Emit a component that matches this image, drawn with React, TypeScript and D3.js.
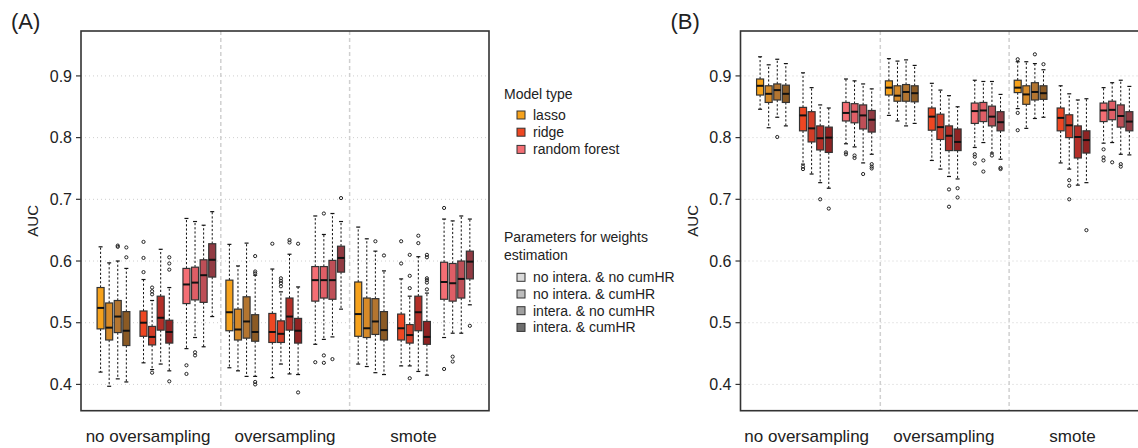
import React from "react";
import * as d3 from "d3";

// ---- categories ----
const groups = ["no oversampling", "oversampling", "smote"];
const models = ["lasso", "ridge", "random forest"];
const params = [
  "no intera. & no cumHR",
  "no intera. & cumHR",
  "intera. & no cumHR",
  "intera. & cumHR",
];
const yTicks = [0.4, 0.5, 0.6, 0.7, 0.8, 0.9];
const panelLabels = ["(A)", "(B)"];

// ---- colours ----
const modelColors = ["#F6A21C", "#EE4722", "#F46E74"];
const boxColors = [
  ["#F6A21C", "#D68A28", "#B37530", "#8B5A24"],
  ["#EE4722", "#D33D27", "#B42F28", "#8F2222"],
  ["#F46E74", "#DF5E66", "#BE4F57", "#913A42"],
];
const paramColors = ["#DADADA", "#BDBDBD", "#A0A0A0", "#6E6E6E"];

// ---- panel A stats: [whiskerLow, q1, median, q3, whiskerHigh] ----
// order: group -> model -> param
const statsA = [
  [0.420, 0.490, 0.524, 0.557, 0.623],
  [0.397, 0.472, 0.492, 0.532, 0.597],
  [0.409, 0.484, 0.510, 0.536, 0.600],
  [0.404, 0.463, 0.487, 0.518, 0.588],
  [0.435, 0.478, 0.500, 0.519, 0.570],
  [0.424, 0.464, 0.477, 0.494, 0.536],
  [0.433, 0.488, 0.508, 0.543, 0.619],
  [0.422, 0.467, 0.485, 0.504, 0.557],
  [0.458, 0.531, 0.562, 0.588, 0.669],
  [0.476, 0.537, 0.565, 0.590, 0.664],
  [0.461, 0.533, 0.577, 0.602, 0.658],
  [0.510, 0.574, 0.602, 0.628, 0.680],

  [0.427, 0.487, 0.517, 0.569, 0.627],
  [0.422, 0.472, 0.489, 0.522, 0.592],
  [0.413, 0.475, 0.502, 0.542, 0.629],
  [0.413, 0.470, 0.485, 0.513, 0.577],
  [0.411, 0.468, 0.485, 0.515, 0.587],
  [0.433, 0.468, 0.482, 0.503, 0.550],
  [0.417, 0.488, 0.510, 0.540, 0.611],
  [0.416, 0.467, 0.487, 0.507, 0.558],
  [0.465, 0.535, 0.569, 0.591, 0.673],
  [0.473, 0.540, 0.569, 0.591, 0.643],
  [0.477, 0.538, 0.569, 0.601, 0.677],
  [0.522, 0.582, 0.605, 0.624, 0.664],

  [0.433, 0.478, 0.514, 0.566, 0.655],
  [0.429, 0.476, 0.491, 0.540, 0.636],
  [0.419, 0.481, 0.502, 0.539, 0.616],
  [0.416, 0.472, 0.488, 0.518, 0.584],
  [0.430, 0.472, 0.491, 0.514, 0.571],
  [0.430, 0.467, 0.480, 0.497, 0.543],
  [0.421, 0.487, 0.517, 0.543, 0.607],
  [0.415, 0.465, 0.477, 0.502, 0.548],
  [0.476, 0.538, 0.566, 0.598, 0.668],
  [0.483, 0.535, 0.564, 0.596, 0.665],
  [0.483, 0.540, 0.571, 0.600, 0.673],
  [0.529, 0.571, 0.599, 0.616, 0.668],
];
const outliersA = [
  [], [], [0.623, 0.625], [0.606, 0.622],
  [0.582, 0.605, 0.631], [0.546, 0.551, 0.557, 0.419], [], [0.586, 0.596, 0.606, 0.405],
  [0.431, 0.417], [0.452, 0.447], [], [],

  [], [], [], [0.608, 0.583, 0.580, 0.404, 0.400],
  [0.628], [0.559, 0.564, 0.568, 0.572], [0.630, 0.634], [0.628, 0.387],
  [0.436], [0.677, 0.447, 0.435], [0.441], [0.702],

  [], [], [0.632], [0.609],
  [0.596, 0.632], [0.556, 0.576, 0.610, 0.410], [0.629, 0.641], [0.554, 0.565, 0.569, 0.572, 0.606, 0.610],
  [0.686, 0.425], [0.445, 0.437], [], [0.495],
];

// ---- panel B stats ----
const statsB = [
  [0.846, 0.869, 0.884, 0.895, 0.931],
  [0.816, 0.857, 0.871, 0.884, 0.918],
  [0.833, 0.861, 0.877, 0.887, 0.927],
  [0.819, 0.857, 0.871, 0.885, 0.920],
  [0.757, 0.811, 0.836, 0.849, 0.905],
  [0.741, 0.793, 0.815, 0.842, 0.881],
  [0.727, 0.780, 0.799, 0.819, 0.853],
  [0.718, 0.776, 0.800, 0.817, 0.848],
  [0.790, 0.827, 0.840, 0.857, 0.895],
  [0.785, 0.824, 0.842, 0.855, 0.892],
  [0.759, 0.814, 0.836, 0.853, 0.887],
  [0.773, 0.809, 0.829, 0.844, 0.879],

  [0.836, 0.869, 0.881, 0.892, 0.928],
  [0.827, 0.859, 0.868, 0.884, 0.924],
  [0.819, 0.859, 0.874, 0.886, 0.926],
  [0.823, 0.858, 0.872, 0.884, 0.917],
  [0.763, 0.812, 0.834, 0.848, 0.888],
  [0.749, 0.797, 0.817, 0.838, 0.877],
  [0.737, 0.779, 0.803, 0.819, 0.868],
  [0.733, 0.779, 0.793, 0.814, 0.850],
  [0.784, 0.823, 0.843, 0.856, 0.893],
  [0.792, 0.826, 0.844, 0.857, 0.891],
  [0.775, 0.819, 0.834, 0.851, 0.891],
  [0.765, 0.811, 0.825, 0.842, 0.870],

  [0.847, 0.873, 0.881, 0.893, 0.923],
  [0.815, 0.854, 0.870, 0.884, 0.923],
  [0.831, 0.861, 0.874, 0.889, 0.920],
  [0.833, 0.862, 0.872, 0.884, 0.910],
  [0.759, 0.811, 0.832, 0.848, 0.884],
  [0.749, 0.800, 0.820, 0.837, 0.871],
  [0.723, 0.767, 0.801, 0.819, 0.861],
  [0.727, 0.775, 0.796, 0.811, 0.863],
  [0.791, 0.826, 0.844, 0.856, 0.881],
  [0.792, 0.829, 0.845, 0.859, 0.889],
  [0.773, 0.817, 0.835, 0.853, 0.893],
  [0.772, 0.811, 0.826, 0.842, 0.883],
];
const outliersB = [
  [], [], [0.801], [],
  [0.753, 0.749], [], [0.700], [0.685],
  [0.776, 0.773], [0.771, 0.767], [0.741], [0.757, 0.753, 0.750],

  [], [], [], [],
  [], [], [0.716, 0.688], [0.718, 0.703],
  [0.773, 0.769, 0.758], [0.763, 0.745], [0.771], [0.751, 0.749],

  [0.927, 0.840, 0.812], [], [0.935], [0.919],
  [], [0.731, 0.722, 0.700], [], [0.650],
  [0.781, 0.768, 0.763], [0.760], [0.757, 0.753], [],
];

const FONT = "'Liberation Sans', Arial, Helvetica, sans-serif";

const W = 1138;
const H = 448;
const plotTop = 31;
const plotBottom = 410.7;
const plotWidth = 408;

type PanelProps = {
  left: number;
  label: string;
  stats: number[][];
  outliers: number[][];
  groupLabelX: number[];
};

function Panel({ left, label, stats, outliers, groupLabelX }: PanelProps) {
  const y = d3.scaleLinear().domain([0.3574, 0.9728]).range([plotBottom, plotTop]);
  const x = d3.scaleLinear().domain([-2.28, 45.23]).range([left, left + plotWidth]);
  const boxW = 7;
  const capW = 4;
  const boxes: any[] = [];
  let k = 0;
  groups.forEach((g, gi) => {
    models.forEach((m, mi) => {
      params.forEach((p, pi) => {
        const pos = gi * 15 + mi * 5 + pi;
        const [lo, q1, med, q3, hi] = stats[k];
        const outs = outliers[k];
        const cx = x(pos);
        const col = boxColors[mi][pi];
        boxes.push(
          <g key={k}>
            <line x1={cx} x2={cx} y1={y(q3)} y2={y(hi)} stroke="#111" strokeWidth={1} strokeDasharray="2.2,2" />
            <line x1={cx} x2={cx} y1={y(q1)} y2={y(lo)} stroke="#111" strokeWidth={1} strokeDasharray="2.2,2" />
            <line x1={cx - capW / 2} x2={cx + capW / 2} y1={y(hi)} y2={y(hi)} stroke="#111" strokeWidth={1.2} />
            <line x1={cx - capW / 2} x2={cx + capW / 2} y1={y(lo)} y2={y(lo)} stroke="#111" strokeWidth={1.2} />
            <rect x={cx - boxW / 2} y={y(q3)} width={boxW} height={y(q1) - y(q3)} fill={col} stroke="#333" strokeWidth={1.2} />
            <line x1={cx - boxW / 2} x2={cx + boxW / 2} y1={y(med)} y2={y(med)} stroke="#111" strokeWidth={2} />
            {outs.map((o, oi) => (
              <circle key={oi} cx={cx} cy={y(o)} r={1.6} fill="none" stroke="#222" strokeWidth={1} />
            ))}
          </g>
        );
        k++;
      });
    });
  });

  return (
    <g>
      <text x={left - 70} y={29} fontSize={22} fontFamily={FONT} fill="#222">{label}</text>
      {/* grid */}
      {yTicks.map((t) => (
        <line key={t} x1={left} x2={left + plotWidth} y1={y(t)} y2={y(t)} stroke="#cfcfcf" strokeWidth={1} strokeDasharray="1,3" />
      ))}
      {[14, 29].map((s) => (
        <line key={s} x1={x(s)} x2={x(s)} y1={plotTop} y2={plotBottom} stroke="#d0d0d0" strokeWidth={1.5} strokeDasharray="4,3" />
      ))}
      {boxes}
      <rect x={left} y={plotTop} width={plotWidth} height={plotBottom - plotTop} fill="none" stroke="#333" strokeWidth={1.6} />
      {yTicks.map((t) => (
        <g key={"t" + t}>
          <line x1={left - 5} x2={left} y1={y(t)} y2={y(t)} stroke="#333" strokeWidth={1.2} />
          <text x={left - 9} y={y(t)} dy="0.36em" textAnchor="end" fontSize={16} fontFamily={FONT} fill="#222">
            {t.toFixed(1)}
          </text>
        </g>
      ))}
      <text
        transform={`translate(${left - 48},${(plotTop + plotBottom) / 2}) rotate(-90)`}
        textAnchor="middle"
        dy="0.36em"
        fontSize={15}
        fontFamily={FONT}
        fill="#222"
      >
        AUC
      </text>
      {groups.map((g, gi) => (
        <text key={g} x={groupLabelX[gi]} y={442} textAnchor="middle" fontSize={17} fontFamily={FONT} fill="#222">
          {g}
        </text>
      ))}
    </g>
  );
}

function Legend() {
  const lx = 504;
  return (
    <g fontFamily={FONT} fill="#222">
      <text x={lx} y={99} fontSize={14}>Model type</text>
      {models.map((m, i) => (
        <g key={m}>
          <rect x={517} y={115 + i * 17.2 - 4} width={8} height={8} fill={modelColors[i]} stroke="#333" strokeWidth={1} />
          <text x={533} y={115 + i * 17.2} dy="0.36em" fontSize={14}>{m}</text>
        </g>
      ))}
      <text x={lx} y={242} fontSize={14}>Parameters for weights</text>
      <text x={lx} y={260} fontSize={14}>estimation</text>
      {params.map((p, i) => (
        <g key={p}>
          <rect x={517} y={277.3 + i * 16.7 - 4} width={8} height={8} fill={paramColors[i]} stroke="#333" strokeWidth={1} />
          <text x={533} y={277.3 + i * 16.7} dy="0.36em" fontSize={14}>{p}</text>
        </g>
      ))}
    </g>
  );
}

export default function App() {
  return (
    <svg
      width={W}
      height={H}
      viewBox={`0 0 ${W} ${H}`}
      style={{ position: "absolute", left: 0, top: 0, background: "#fff" }}
    >
      <rect x={0} y={0} width={W} height={H} fill="#fff" />
      <Panel left={81} label={panelLabels[0]} stats={statsA} outliers={outliersA} groupLabelX={[148, 285, 413.5]} />
      <Legend />
      <Panel left={740.5} label={panelLabels[1]} stats={statsB} outliers={outliersB} groupLabelX={[806.7, 943.8, 1072.5]} />
    </svg>
  );
}
